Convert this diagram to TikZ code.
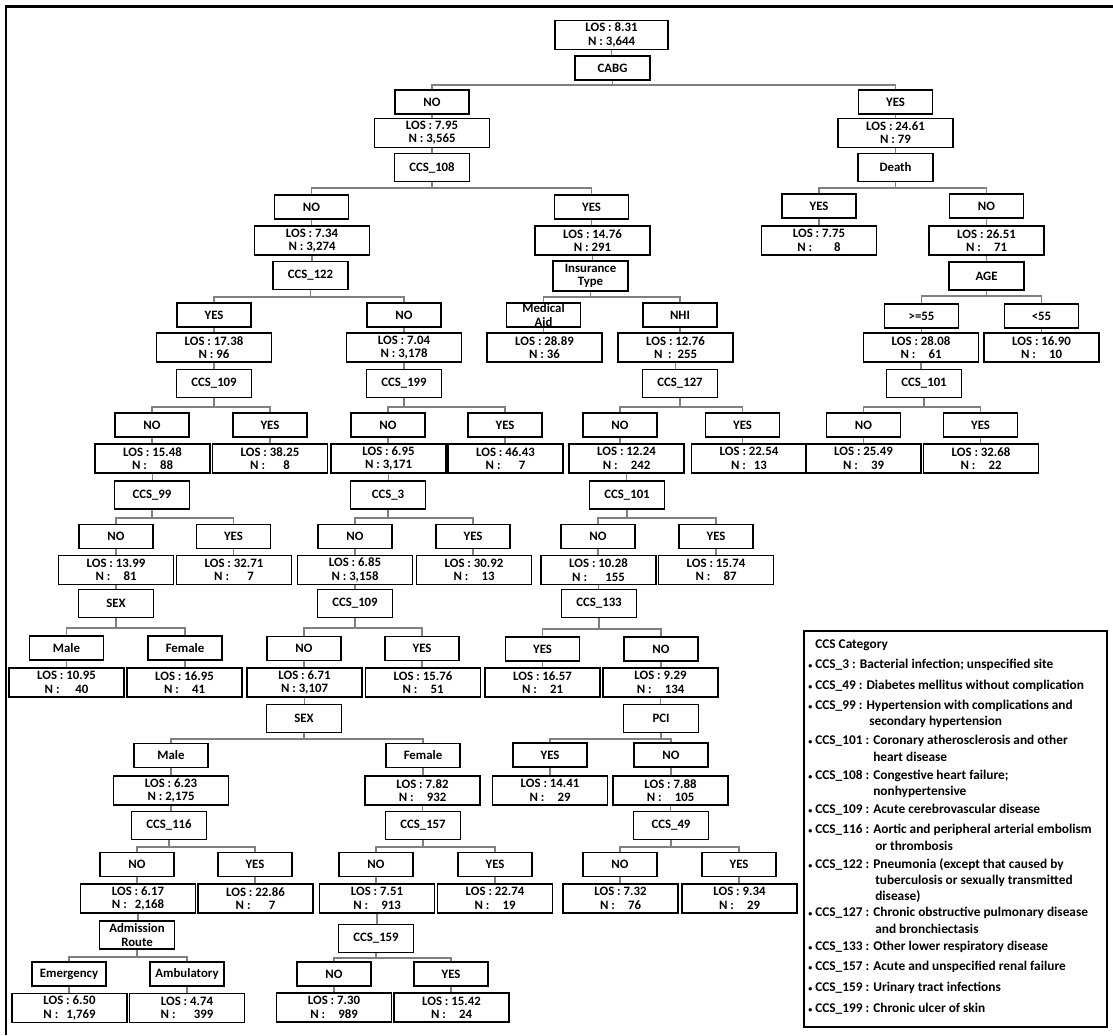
\documentclass[tikz,border=0pt]{standalone}
\usepackage{fontspec}
\setmainfont{Carlito}
\usetikzlibrary{backgrounds}
\newcommand\treefont{\fontsize{9.6}{10}\selectfont\bfseries}
\newcommand\legfont{\fontsize{10}{12}\selectfont\bfseries}
\newcommand\losn[2]{LOS : #1\\N : #2}
\newcommand\bul{{\fontsize{6}{6}\selectfont\textbullet}\ }
\begin{document}
\begin{tikzpicture}[x=0.75pt,y=-0.75pt,
 box/.style={draw, line width=1.3pt, fill=white, inner sep=0pt, align=center, font=\treefont},
 lab/.style={box, minimum width=55.5pt, minimum height=18pt},
 stat/.style={box, minimum width=86.25pt, minimum height=21.75pt},
 var/.style={box, minimum width=56.25pt, minimum height=21pt},
 conn/.style={draw=black!50, line width=0.8pt},
 leg/.style={anchor=west, inner sep=0pt, font=\legfont}]
\useasboundingbox (0,0) rectangle (1113,1035);
\draw[line width=2pt] (6,1035) -- (6,6.5) -- (1113,6.5);

% root
\node[stat, minimum width=84.75pt] (root) at (611.5,35) {\losn{8.31}{3,644}};
\node[var, minimum height=18pt] (cabg) at (612.5,68) {CABG};
% row B
\node[lab] (bno) at (432,102) {NO};
\node[stat] (bnos) at (432,133) {\losn{7.95}{3,565}};
\node[var] (c108) at (432,167.5) {CCS\_108};
\node[lab] (byes) at (895.5,102) {YES};
\node[stat] (byess) at (895.5,133) {\losn{24.61}{79}};
\node[var] (death) at (895.5,167.5) {Death};
% row C
\node[lab] (cno) at (311.5,207) {NO};
\node[stat] (cnos) at (312,240.5) {\losn{7.34}{3,274}};
\node[var] (c122) at (310.5,275.5) {CCS\_122};
\node[lab] (cyes) at (591.5,207) {YES};
\node[stat] (cyess) at (592.5,240.5) {\losn{14.76}{291}};
\node[var, minimum height=22.5pt] (ins) at (590.5,276) {Insurance\\Type};
\node[lab] (dyes) at (819,206) {YES};
\node[stat] (dyess) at (819,240.5) {\losn{7.75}{\hspace{1.5em}8}};
\node[lab] (dno) at (986.5,206) {NO};
\node[stat] (dnos) at (986.5,240.5) {\losn{26.51}{\hspace{0.8em}71}};
\node[var] (age) at (986.5,276) {AGE};
% row D
\node[lab] (age1) at (921.5,316) {>=55};
\node[stat] (age1s) at (921,347.5) {\losn{28.08}{\hspace{0.8em}61}};
\node[var] (c101b) at (924,383.5) {CCS\_101};
\node[lab] (age2) at (1041.5,316) {<55};
\node[stat] (age2s) at (1041.5,347.5) {\losn{16.90}{\hspace{0.8em}10}};
\node[lab] (dy122) at (214,315) {YES};
\node[stat] (dy122s) at (214,347.5) {\losn{17.38}{96}};
\node[var] (c109a) at (214,383.5) {CCS\_109};
\node[lab] (dn122) at (404,315) {NO};
\node[stat] (dn122s) at (404,347.5) {\losn{7.04}{3,178}};
\node[var] (c199) at (404,383.5) {CCS\_199};
\node[lab] (ma) at (543.5,315) {Medical\\Aid};
\node[stat] (mas) at (544.5,347.5) {\losn{28.89}{36}};
\node[lab] (nhi) at (680,315) {NHI};
\node[stat] (nhis) at (675.5,347.5) {LOS : 12.76\\N\ \ :\ \ 255};
\node[var] (c127) at (680,383.5) {CCS\_127};
% row E
\node[lab] (e1no) at (152,425) {NO};
\node[stat] (e1nos) at (152.5,458.5) {\losn{15.48}{\hspace{0.8em}88}};
\node[var] (c99) at (152,495) {CCS\_99};
\node[lab] (e1yes) at (270,425) {YES};
\node[stat] (e1yess) at (270,458.5) {\losn{38.25}{\hspace{1.2em}8}};
\node[lab] (e2no) at (388,425) {NO};
\node[stat] (e2nos) at (388.5,458.5) {\losn{6.95}{3,171}};
\node[var] (c3) at (388,495) {CCS\_3};
\node[lab] (e2yes) at (505,425) {YES};
\node[stat] (e2yess) at (505.5,458.5) {\losn{46.43}{\hspace{1.2em}7}};
\node[lab] (e3no) at (620,425) {NO};
\node[stat] (e3nos) at (626.5,458.5) {\losn{12.24}{\hspace{0.8em}242}};
\node[var] (c101a) at (627,495) {CCS\_101};
\node[lab] (e3yes) at (742.5,425) {YES};
\node[stat] (e3yess) at (749,458.5) {\losn{22.54}{\hspace{0.4em}13}};
\node[lab] (e4no) at (863.5,425) {NO};
\node[stat] (e4nos) at (863.5,458.5) {\losn{25.49}{\hspace{0.8em}39}};
\node[lab] (e4yes) at (980.5,425) {YES};
\node[stat] (e4yess) at (981,458.5) {\losn{32.68}{\hspace{0.8em}22}};
% row F
\node[lab] (f1no) at (116,536.5) {NO};
\node[stat] (f1nos) at (116,570) {\losn{13.99}{\hspace{0.8em}81}};
\node[var] (sex1) at (116,603.5) {SEX};
\node[lab] (f1yes) at (233.5,536.5) {YES};
\node[stat] (f1yess) at (234,570) {\losn{32.71}{\hspace{1.2em}7}};
\node[lab] (f2no) at (355,536.5) {NO};
\node[stat] (f2nos) at (355,570) {\losn{6.85}{3,158}};
\node[var] (c109b) at (355,603.5) {CCS\_109};
\node[lab] (f2yes) at (473,536.5) {YES};
\node[stat] (f2yess) at (474,570) {\losn{30.92}{\hspace{0.8em}13}};
\node[lab] (f3no) at (598,536.5) {NO};
\node[stat] (f3nos) at (598.5,570) {\losn{10.28}{\hspace{1.2em}155}};
\node[var] (c133) at (599,603.5) {CCS\_133};
\node[lab] (f3yes) at (716,536.5) {YES};
\node[stat] (f3yess) at (716,570) {\losn{15.74}{\hspace{0.8em}87}};
% row G
\node[lab] (g1m) at (66.5,648) {Male};
\node[stat] (g1ms) at (66.5,682.5) {\losn{10.95}{\hspace{1em}40}};
\node[lab] (g1f) at (185,648) {Female};
\node[stat] (g1fs) at (184.5,682.5) {\losn{16.95}{\hspace{0.8em}41}};
\node[lab] (g2no) at (304,648.5) {NO};
\node[stat] (g2nos) at (304.5,682.5) {\losn{6.71}{3,107}};
\node[var] (sex2) at (304,718.5) {SEX};
\node[lab] (g2yes) at (422,648.5) {YES};
\node[stat] (g2yess) at (423,682.5) {\losn{15.76}{\hspace{0.8em}51}};
\node[lab] (g3yes) at (542.5,649) {YES};
\node[stat] (g3yess) at (542.5,682.5) {\losn{16.57}{\hspace{0.8em}21}};
\node[lab] (g3no) at (661,649) {NO};
\node[stat] (g3nos) at (660.5,682.5) {\losn{9.29}{\hspace{0.8em}134}};
\node[var] (pci) at (661,718.5) {PCI};
% row H
\node[lab] (h1m) at (171,755.5) {Male};
\node[stat] (h1ms) at (171,790.5) {\losn{6.23}{2,175}};
\node[var] (c116) at (169,825.5) {CCS\_116};
\node[lab] (h1f) at (423,755.5) {Female};
\node[stat] (h1fs) at (422.5,790.5) {\losn{7.82}{\hspace{0.8em}932}};
\node[var] (c157) at (423,825.5) {CCS\_157};
\node[lab] (h2yes) at (550,755) {YES};
\node[stat] (h2yess) at (550,790.5) {\losn{14.41}{\hspace{0.8em}29}};
\node[lab] (h2no) at (671,755) {NO};
\node[stat] (h2nos) at (670.5,790.5) {\losn{7.88}{\hspace{0.8em}105}};
\node[var] (c49) at (671,825.5) {CCS\_49};
% row I
\node[lab] (i1no) at (137,864.5) {NO};
\node[stat] (i1nos) at (138,898.5) {\losn{6.17}{\hspace{0.4em}2,168}};
\node[var] (adm) at (137,935) {Admission\\Route};
\node[lab] (i1yes) at (255,864.5) {YES};
\node[stat] (i1yess) at (255.5,898.5) {\losn{22.86}{\hspace{1.2em}7}};
\node[lab] (i2no) at (376,864.5) {NO};
\node[stat] (i2nos) at (377,898.5) {\losn{7.51}{\hspace{0.8em}913}};
\node[var] (c159) at (376,938.5) {CCS\_159};
\node[lab] (i2yes) at (495,864.5) {YES};
\node[stat] (i2yess) at (495,898.5) {\losn{22.74}{\hspace{0.8em}19}};
\node[lab] (i3no) at (620,864.5) {NO};
\node[stat] (i3nos) at (620.5,898.5) {\losn{7.32}{\hspace{0.8em}76}};
\node[lab] (i3yes) at (739,864.5) {YES};
\node[stat] (i3yess) at (739.5,898.5) {\losn{9.34}{\hspace{0.8em}29}};
% row J
\node[lab] (j1e) at (69,974) {Emergency};
\node[stat] (j1es) at (69.5,1008) {\losn{6.50}{\hspace{0.4em}1,769}};
\node[lab] (j1a) at (187,974) {Ambulatory};
\node[stat] (j1as) at (187,1008) {\losn{4.74}{\hspace{1.2em}399}};
\node[lab] (j2no) at (334,974) {NO};
\node[stat] (j2nos) at (334,1007.5) {\losn{7.30}{\hspace{0.8em}989}};
\node[lab] (j2yes) at (451,974) {YES};
\node[stat] (j2yess) at (451.5,1007.5) {\losn{15.42}{\hspace{0.8em}24}};

\begin{scope}[on background layer]
\foreach \a/\b in {root/cabg, bno/bnos, bnos/c108, byes/byess, byess/death,
  cno/cnos, cnos/c122, cyes/cyess, cyess/ins, dyes/dyess, dno/dnos, dnos/age,
  age1/age1s, age1s/c101b, age2/age2s, dy122/dy122s, dy122s/c109a,
  dn122/dn122s, dn122s/c199, ma/mas, nhi/nhis, nhis/c127,
  e1no/e1nos, e1nos/c99, e1yes/e1yess, e2no/e2nos, e2nos/c3, e2yes/e2yess,
  e3no/e3nos, e3nos/c101a, e3yes/e3yess, e4no/e4nos, e4yes/e4yess,
  f1no/f1nos, f1nos/sex1, f1yes/f1yess, f2no/f2nos, f2nos/c109b, f2yes/f2yess,
  f3no/f3nos, f3nos/c133, f3yes/f3yess, g1m/g1ms, g1f/g1fs, g2no/g2nos,
  g2nos/sex2, g2yes/g2yess, g3yes/g3yess, g3no/g3nos, g3nos/pci,
  h1m/h1ms, h1ms/c116, h1f/h1fs, h1fs/c157, h2yes/h2yess, h2no/h2nos, h2nos/c49,
  i1no/i1nos, i1nos/adm, i1yes/i1yess, i2no/i2nos, i2nos/c159, i2yes/i2yess,
  i3no/i3nos, i3yes/i3yess, j1e/j1es, j1a/j1as, j2no/j2nos, j2yes/j2yess}
  \draw[conn] (\a.south) -- (\a.south |- \b.north);
\foreach \p/\y/\a/\b in {cabg/85/bno/byes, c108/188/cno/cyes, death/188/dyes/dno,
  age/296/age1/age2, c101b/407/e4no/e4yes, c122/297/dy122/dn122, ins/297/ma/nhi,
  c109a/407/e1no/e1yes, c199/407/e2no/e2yes, c127/407/e3no/e3yes,
  c99/518/f1no/f1yes, c3/518/f2no/f2yes, c101a/518/f3no/f3yes,
  sex1/628/g1m/g1f, c109b/628/g2no/g2yes, c133/629/g3yes/g3no,
  sex2/739/h1m/h1f, pci/739/h2yes/h2no, c116/847/i1no/i1yes,
  c157/847/i2no/i2yes, c49/847/i3no/i3yes, adm/957/j1e/j1a, c159/958/j2no/j2yes}
  {\draw[conn] (\p.south) -- (\p.south |- 0,\y);
   \draw[conn] (\a.north) -- (\a.north |- 0,\y) -- (\b.north |- 0,\y) -- (\b.north);}
\end{scope}

% legend
\node[draw, line width=1.6pt, anchor=north west, minimum width=227.25pt, minimum height=297pt, inner sep=0pt] (legend) at (803,630) {};
\node[leg] (lt) at (815,645) {CCS Category};
\node[leg] (l1) at (808,665) {\bul CCS\_3 : Bacterial infection; unspecified site};
\node[leg] (l2) at (808,686) {\bul CCS\_49 : Diabetes mellitus without complication};
\node[leg] (l3) at (808,706) {\bul CCS\_99 : Hypertension with complications and};
\node[leg] (l3b) at (869,722) {secondary hypertension};
\node[leg] (l4) at (808,741) {\bul CCS\_101 : Coronary atherosclerosis and other};
\node[leg] (l4b) at (873,757) {heart disease};
\node[leg] (l5) at (808,776) {\bul CCS\_108 : Congestive heart failure;};
\node[leg] (l5b) at (873,792) {nonhypertensive};
\node[leg] (l6) at (808,810) {\bul CCS\_109 : Acute cerebrovascular disease};
\node[leg] (l7) at (808,830) {\bul CCS\_116 : Aortic and peripheral arterial embolism};
\node[leg] (l7b) at (875,846) {or thrombosis};
\node[leg] (l8) at (808,865) {\bul CCS\_122 : Pneumonia (except that caused by};
\node[leg] (l8b) at (875,881) {tuberculosis or sexually transmitted};
\node[leg] (l8c) at (875,897) {disease)};
\node[leg] (l9) at (808,913) {\bul CCS\_127 : Chronic obstructive pulmonary disease};
\node[leg] (l9b) at (875,929) {and bronchiectasis};
\node[leg] (l10) at (808,947) {\bul CCS\_133 : Other lower respiratory disease};
\node[leg] (l11) at (808,967) {\bul CCS\_157 : Acute and unspecified renal failure};
\node[leg] (l12) at (808,988) {\bul CCS\_159 : Urinary tract infections};
\node[leg] (l13) at (808,1009) {\bul CCS\_199 : Chronic ulcer of skin};
\end{tikzpicture}
\end{document}
